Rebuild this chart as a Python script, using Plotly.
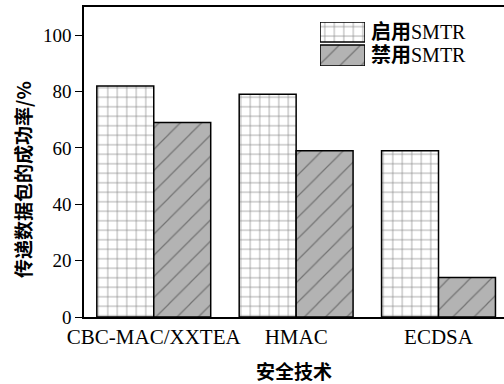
import plotly.graph_objects as go

# Success rate of delivered packets by security technique
categories = ["CBC-MAC/XXTEA", "HMAC", "ECDSA"]
smtr_on = [82, 79, 59]
smtr_off = [69, 59, 14]
series_names = ["启用SMTR", "禁用SMTR"]
y_ticks = [0, 20, 40, 60, 80, 100]

serif = "Liberation Serif, Times New Roman, serif"
mixed = "Liberation Serif, Noto Sans CJK SC, serif"
cjk = "Noto Sans CJK SC, sans-serif"

on_style = dict(
    color="white",
    line=dict(color="black", width=1.5),
    pattern=dict(shape="+", fgcolor="#111111", bgcolor="white",
                 size=9.5, solidity=0.14, fillmode="overlay"),
)
off_style = dict(
    color="#b3b3b3",
    line=dict(color="black", width=1.5),
    pattern=dict(shape="/", fgcolor="#333333", bgcolor="#b3b3b3",
                 size=15, solidity=0.08, fillmode="overlay"),
)

fig = go.Figure()
fig.add_trace(go.Bar(x=categories, y=smtr_on, name=series_names[0],
                     marker=on_style, showlegend=False))
fig.add_trace(go.Bar(x=categories, y=smtr_off, name=series_names[1],
                     marker=off_style, showlegend=False))

# Legend swatches drawn as wide patterned boxes on a small overlay axis
fig.add_trace(go.Bar(x=[0], y=[0.91], base=[1.09], width=[1], offset=[-0.5],
                     marker=on_style, xaxis="x2", yaxis="y2",
                     showlegend=False, hoverinfo="skip"))
fig.add_trace(go.Bar(x=[0], y=[0.95], base=[0], width=[1], offset=[-0.5],
                     marker=off_style, xaxis="x2", yaxis="y2",
                     showlegend=False, hoverinfo="skip"))

legend_y = [0.919, 0.845]
for name, yy in zip(series_names, legend_y):
    cn, en = name[:2], name[2:]
    fig.add_annotation(
        xref="paper", yref="paper", x=0.679, y=yy,
        xanchor="left", yanchor="middle", showarrow=False,
        text=f"<b>{cn}</b>{en}",
        font=dict(family=mixed, size=20, color="black"),
    )

# Vertical axis title
fig.add_annotation(
    xref="paper", yref="paper", x=-0.148, y=0.445,
    xanchor="center", yanchor="middle", showarrow=False, textangle=-90,
    text="<b>传递数据包的成功率/%</b>",
    font=dict(family=cjk, size=19, color="black"),
)

fig.update_layout(
    width=504, height=384,
    margin=dict(l=84, r=0, t=7, b=67),
    paper_bgcolor="white", plot_bgcolor="white",
    barmode="group", bargap=0.2, bargroupgap=0,
    font=dict(family=serif, size=19, color="black"),
    showlegend=False,
    xaxis=dict(
        range=[-0.49, 2.46],
        showline=True, linecolor="black", linewidth=1.5, mirror=True,
        ticks="", showgrid=False,
        tickfont=dict(family=serif, size=21),
        title=dict(text="<b>安全技术</b>", font=dict(family=cjk, size=19), standoff=23),
    ),
    yaxis=dict(
        range=[0, 110],
        tickvals=y_ticks,
        showline=True, linecolor="black", linewidth=1.5,
        ticks="outside", ticklen=7, tickwidth=1.2, tickcolor="black",
        showgrid=False, zeroline=False,
        tickfont=dict(family=serif, size=19),
    ),
    xaxis2=dict(domain=[0.562, 0.669], range=[-0.5, 0.5], anchor="y2",
                visible=False, fixedrange=True),
    yaxis2=dict(domain=[0.810, 0.952], range=[0, 2], anchor="x2",
                visible=False, fixedrange=True),
)

fig.write_html("out.html")
